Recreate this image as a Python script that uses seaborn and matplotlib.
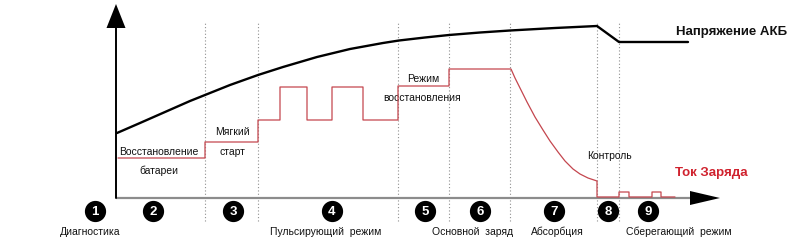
import matplotlib
matplotlib.use("Agg")
import matplotlib.pyplot as plt
import seaborn as sns
import pandas as pd

# ---- data (time units, value units; origin at axis crossing) ----
volt_t = [1, 24, 49, 74, 89, 114, 142, 167, 201, 234, 267, 283, 309, 333, 364, 394, 439, 481, 503, 572]
volt_v = [65, 75, 86, 97, 103, 113, 123, 131, 141, 149, 155, 157.5, 160.5, 163, 165.5, 167.5, 170, 172, 156, 156]

cur_t = [2, 89, 89, 142, 142, 164, 164, 191, 191, 216, 216, 247, 247, 282, 282, 333, 333, 395,
         399, 404, 411, 419, 427, 434, 442, 449, 457, 464, 472, 481, 481, 503, 503, 513, 513,
         536, 536, 545, 545, 559]
cur_i = [40, 40, 56, 56, 78, 78, 111, 111, 78, 78, 111, 111, 78, 78, 112, 112, 129, 129,
         120, 110, 96, 81, 68, 57, 46, 37, 29, 24, 20, 17, 1, 1, 6, 6, 1,
         1, 6, 6, 1, 1]

phase_bounds = [89, 142, 282, 333, 394, 481, 503]
phase_nums = ["1", "2", "3", "4", "5", "6", "7", "8", "9"]
phase_num_t = [-21, 37, 117, 216, 309, 364, 438, 492, 532]

bottom_labels = ["Диагностика", "Пульсирующий  режим", "Основной  заряд", "Абсорбция", "Сберегающий  режим"]
bottom_label_t = [-26, 210, 356, 441, 563]

inner_labels = ["Восстановление", "батареи", "Мягкий", "старт", "Режим", "восстановления", "Контроль"]
inner_label_t = [43, 43, 116, 116, 307, 306, 493]
inner_label_v = [47, 28, 67, 47, 120, 101, 43]

volt_label = "Напряжение АКБ"
cur_label = "Ток Заряда"

# ---- styling ----
sns.set_theme(style="white")
plt.rcParams["font.family"] = ["Liberation Sans", "DejaVu Sans"]

fig = plt.figure(figsize=(8, 2.53), dpi=100)
ax = fig.add_axes([0, 0, 1, 1])

# phase boundaries
for b in phase_bounds:
    ax.plot([b, b], [-23, 175], color="#8f8f8f", lw=0.8, ls=(0, (1, 2)), zorder=1)

# axes with arrows
ax.plot([0, 574], [0, 0], color="#8c8c8c", lw=1.6, zorder=2, solid_capstyle="butt")
ax.fill([574, 604, 574], [7, 0, -7], color="black", zorder=3, lw=0)
ax.plot([0, 0], [0, 172], color="black", lw=1.4, zorder=2)
ax.fill([-9.5, 0, 9.5], [170, 194, 170], color="black", zorder=3, lw=0)

# curves
dv = pd.DataFrame({"t": volt_t, "v": volt_v})
dc = pd.DataFrame({"t": cur_t, "i": cur_i})
sns.lineplot(data=dv, x="t", y="v", sort=False, estimator=None, color="black", lw=1.7, ax=ax, zorder=4)
sns.lineplot(data=dc, x="t", y="i", sort=False, estimator=None, color="#c4464e", lw=0.9, ax=ax, zorder=4)

# circled phase numbers
dn = pd.DataFrame({"t": phase_num_t, "v": [-13] * len(phase_num_t)})
sns.scatterplot(data=dn, x="t", y="v", s=200, color="black", edgecolor="black", ax=ax, zorder=5)
for n, t in zip(phase_nums, phase_num_t):
    ax.text(t, -13.5, n, color="white", fontsize=9.5, fontweight="bold", ha="center", va="center", zorder=6)

for lab, t in zip(bottom_labels, bottom_label_t):
    ax.text(t, -33, lab, fontsize=7.5, ha="center", va="center", color="#111111")

for lab, t, v in zip(inner_labels, inner_label_t, inner_label_v):
    ax.text(t, v, lab, fontsize=7.5, ha="center", va="center", color="#111111")

ax.text(616, 167, volt_label, fontsize=9.5, fontweight="bold", ha="center", va="center", color="#111111")
ax.text(595, 26, cur_label, fontsize=9.5, fontweight="bold", ha="center", va="center", color="#d0222e")

ax.set_xlim(-116, 684)
ax.set_ylim(-54, 199)
ax.axis("off")

fig.savefig("out.png", dpi=100)
